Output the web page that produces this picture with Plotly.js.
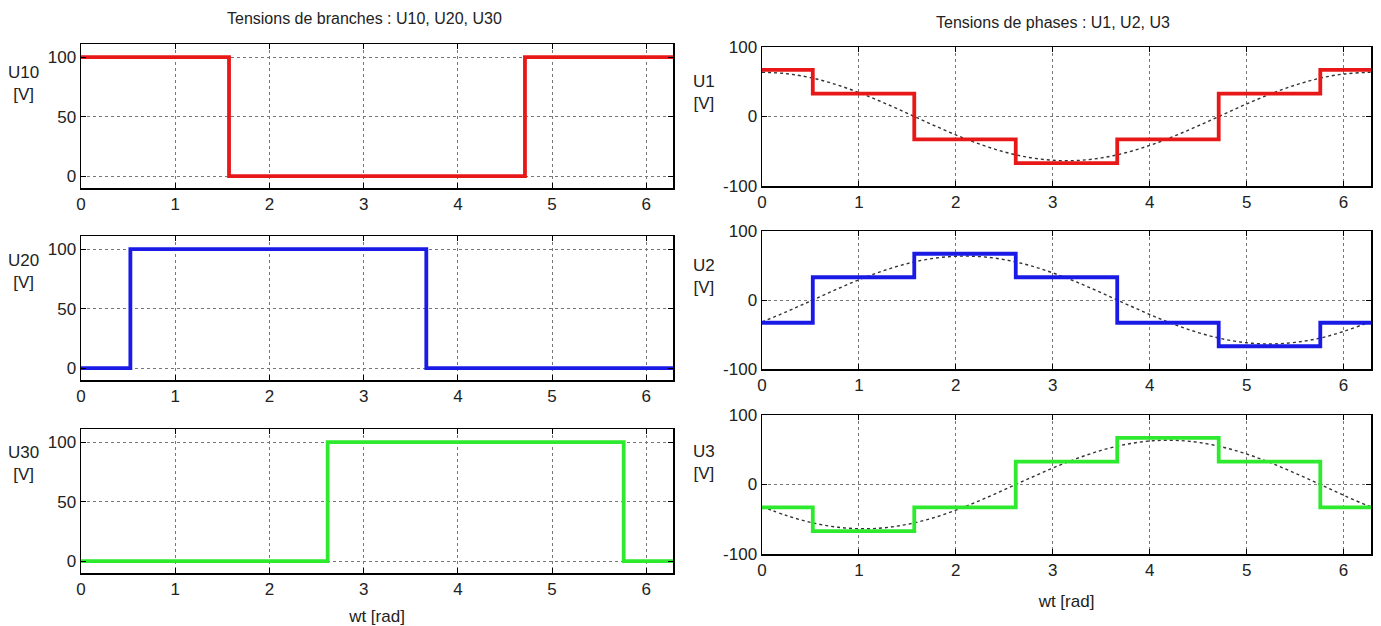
<!DOCTYPE html>
<html>
<head>
<meta charset="utf-8">
<script src="https://cdn.plot.ly/plotly-3.0.1.min.js"></script>
<style>html,body{margin:0;padding:0;background:#fff;}#chart{width:1381px;height:626px;}</style>
</head>
<body>
<div id="chart"></div>
<script>
// Step breakpoints (wt, rad) and levels
const stepWt = [0, 0.524, 1.571, 2.618, 3.665, 4.712, 5.760, 6.283];
const U10 = [100, 100, 0, 0, 0, 100, 100, 100];
const U20 = [0, 100, 100, 100, 0, 0, 0, 0];
const U30 = [0, 0, 0, 100, 100, 100, 0, 0];
const U1 = [67, 33, -33, -67, -33, 33, 67, 67];
const U2 = [-33, 33, 67, 33, -33, -67, -33, -33];
const U3 = [-33, -67, -33, 33, 67, 33, -33, -33];

const refWt = [0, 0.25, 0.5, 0.75, 1.0, 1.25, 1.5, 1.75, 2.0, 2.25, 2.5, 2.75, 3.0, 3.25, 3.5, 3.75, 4.0, 4.25, 4.5, 4.75, 5.0, 5.25, 5.5, 5.75, 6.0, 6.25, 6.283];
const U1ref = [63.7, 61.7, 55.9, 46.6, 34.4, 20.1, 4.5, -11.3, -26.5, -40.0, -51.0, -58.8, -63.0, -63.3, -59.6, -52.2, -41.6, -28.4, -13.4, 2.4, 18.1, 32.6, 45.1, 54.9, 61.1, 63.6, 63.7];
const U2ref = [-31.8, -17.2, -1.5, 14.3, 29.3, 42.3, 52.8, 60.0, 63.4, 62.9, 58.5, 50.5, 39.3, 25.8, 10.5, -5.4, -21.0, -35.2, -47.2, -56.3, -62.0, -63.7, -61.4, -55.5, -45.6, -33.2, -31.8];
const U3ref = [-31.8, -44.5, -54.4, -60.9, -63.7, -62.4, -57.3, -48.7, -36.9, -22.9, -7.5, 8.3, 23.7, 37.5, 49.1, 57.6, 62.6, 63.6, 60.6, 53.9, 43.9, 31.1, 16.3, 0.6, -15.5, -30.4, -31.8];

const xTicks = [0, 1, 2, 3, 4, 5, 6];
const leftYTicks = [0, 50, 100];
const rightYTicks = [-100, 0, 100];

const W = 1381, H = 626;
const RED = '#e81818', BLUE = '#1a1ae6', GREEN = '#2eea2e';
const FONT = '"Liberation Sans Narrow", "Liberation Sans", Arial, sans-serif';

function stepTrace(y, color, xa, ya) {
  return {x: stepWt, y: y, type: 'scatter', mode: 'lines', line: {shape: 'hv', color: color, width: 3.8}, xaxis: xa, yaxis: ya, hoverinfo: 'skip'};
}
function refTrace(y, xa, ya) {
  return {x: refWt, y: y, type: 'scatter', mode: 'lines', line: {shape: 'spline', color: '#333', width: 1.4, dash: 'dot'}, xaxis: xa, yaxis: ya, hoverinfo: 'skip'};
}

const traces = [
  stepTrace(U10, RED, 'x', 'y'),
  stepTrace(U20, BLUE, 'x2', 'y2'),
  stepTrace(U30, GREEN, 'x3', 'y3'),
  refTrace(U1ref, 'x4', 'y4'),
  stepTrace(U1, RED, 'x4', 'y4'),
  refTrace(U2ref, 'x5', 'y5'),
  stepTrace(U2, BLUE, 'x5', 'y5'),
  refTrace(U3ref, 'x6', 'y6'),
  stepTrace(U3, GREEN, 'x6', 'y6'),
];

function xd(a, b) { return [a / W, b / W]; }
function yd(top, bottom) { return [1 - bottom / H, 1 - top / H]; }

function xAxis(dom, anchor, title, standoff) {
  const ax = {domain: dom, anchor: anchor, range: [0, 6.2832], tickvals: xTicks, ticktext: xTicks.map(String),
    showgrid: true, gridcolor: '#777', griddash: 'dot', gridwidth: 1, zeroline: false,
    showline: true, linecolor: '#000', linewidth: 1.5, mirror: 'allticks', ticks: 'inside', ticklen: 5, tickcolor: '#000',
    tickfont: {family: FONT, size: 17, color: '#222'}, fixedrange: true};
  if (title) ax.title = {text: title, font: {family: FONT, size: 17, color: '#222'}, standoff: standoff};
  return ax;
}
function yAxis(dom, anchor, range, ticks) {
  return {domain: dom, anchor: anchor, range: range, tickvals: ticks, ticktext: ticks.map(String),
    showgrid: true, gridcolor: '#777', griddash: 'dot', gridwidth: 1, zeroline: false,
    showline: true, linecolor: '#000', linewidth: 1.5, mirror: 'allticks', ticks: 'inside', ticklen: 5, tickcolor: '#000',
    tickfont: {family: FONT, size: 17, color: '#222'}, fixedrange: true};
}

const LX = xd(81, 673), RX = xd(762, 1371);
const layout = {
  width: W, height: H, margin: {l: 0, r: 0, t: 0, b: 0}, showlegend: false,
  paper_bgcolor: '#fff', plot_bgcolor: '#fff',
  xaxis: xAxis(LX, 'y'), yaxis: yAxis(yd(44, 188), 'x', [-10, 111], leftYTicks),
  xaxis2: xAxis(LX, 'y2'), yaxis2: yAxis(yd(236, 380), 'x2', [-10, 111], leftYTicks),
  xaxis3: xAxis(LX, 'y3', 'wt [rad]', 14), yaxis3: yAxis(yd(429, 573), 'x3', [-10, 111], leftYTicks),
  xaxis4: xAxis(RX, 'y4'), yaxis4: yAxis(yd(47, 186), 'x4', [-100, 100], rightYTicks),
  xaxis5: xAxis(RX, 'y5'), yaxis5: yAxis(yd(231, 369), 'x5', [-100, 100], rightYTicks),
  xaxis6: xAxis(RX, 'y6', 'wt [rad]', 16), yaxis6: yAxis(yd(415, 554), 'x6', [-100, 100], rightYTicks),
  annotations: []
};

function ann(text, px, py, size) {
  layout.annotations.push({text: text, x: px / W, y: 1 - py / H, xref: 'paper', yref: 'paper', showarrow: false,
    xanchor: 'center', yanchor: 'middle', align: 'center', font: {family: FONT, size: size || 17, color: '#222'}});
}
ann('Tensions de branches : U10, U20, U30', 364, 18, 16);
ann('Tensions de phases : U1, U2, U3', 1053, 22, 16);
ann('U10<br>[V]', 23, 84);
ann('U20<br>[V]', 23, 271);
ann('U30<br>[V]', 23, 463);
ann('U1<br>[V]', 704, 92);
ann('U2<br>[V]', 704, 277);
ann('U3<br>[V]', 704, 462);

Plotly.newPlot('chart', traces, layout, {staticPlot: true, displayModeBar: false});
</script>
</body>
</html>
